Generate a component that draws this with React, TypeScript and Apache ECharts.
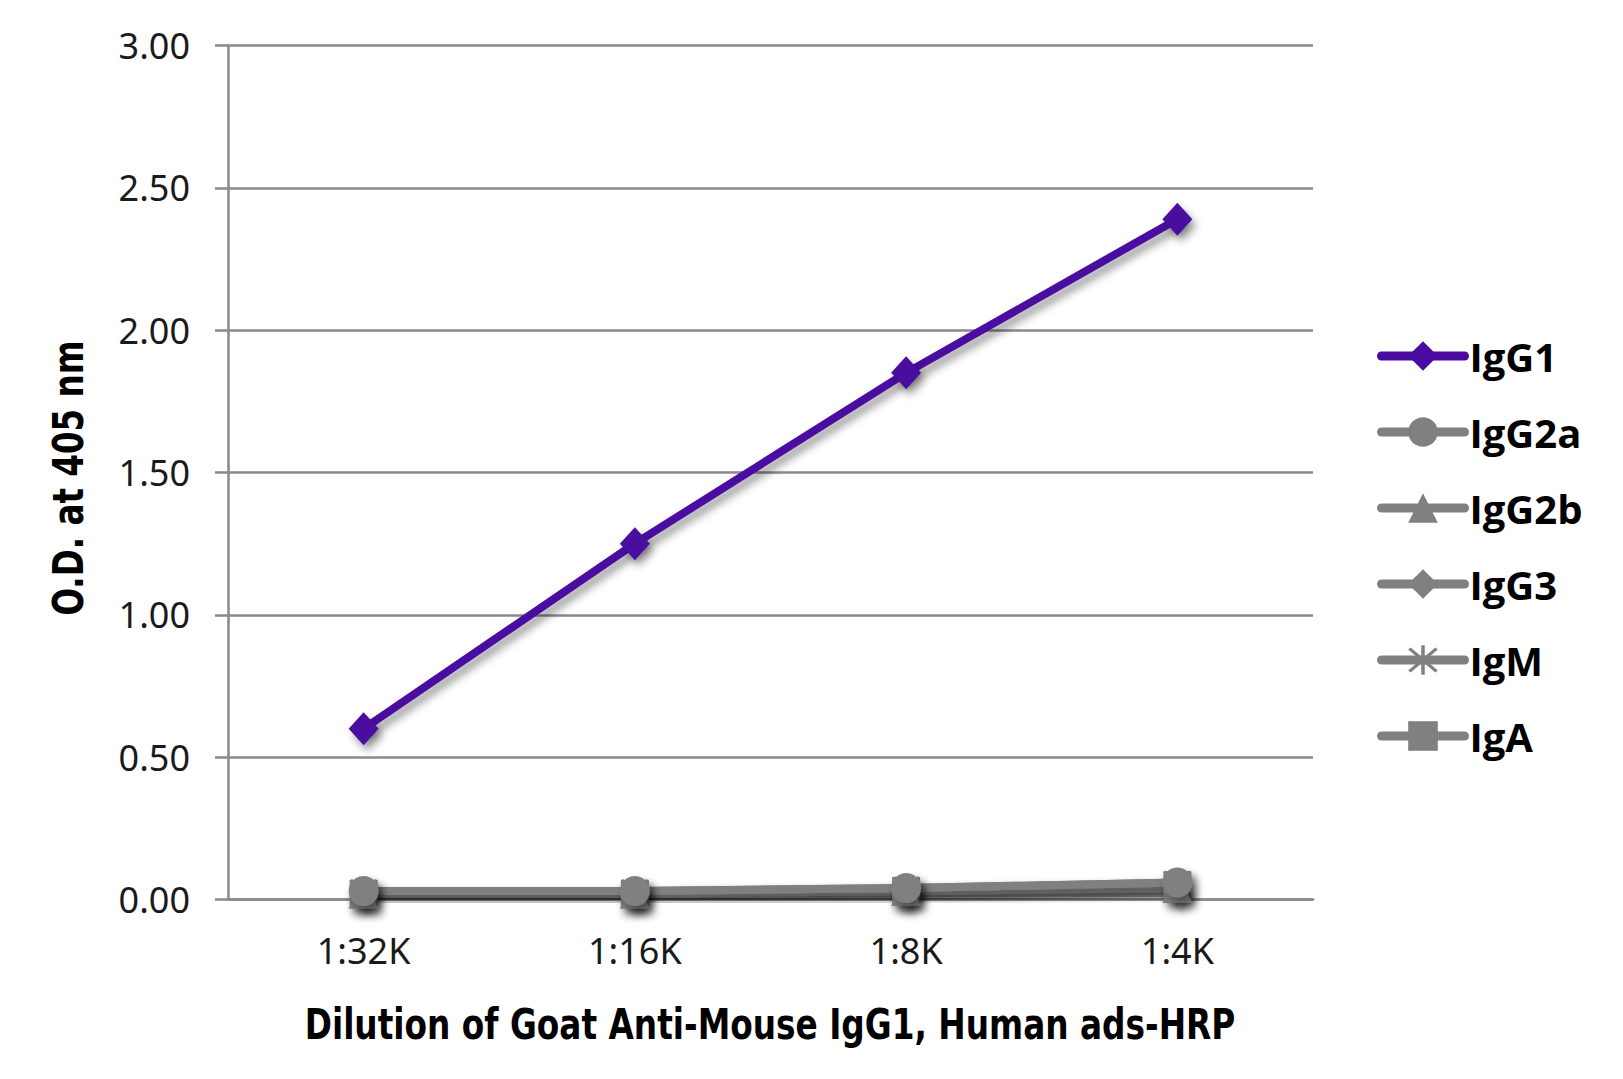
import React, { useEffect, useRef } from "react";
import * as echarts from "echarts";

const categories = ["1:32K", "1:16K", "1:8K", "1:4K"];
const yTicks = { min: 0, max: 3, interval: 0.5 };

const igg1 = [0.6, 1.25, 1.85, 2.39];
const igg2a = [0.03, 0.03, 0.04, 0.06];
const igg2b = [0.02, 0.02, 0.03, 0.04];
const igg3 = [0.02, 0.02, 0.02, 0.03];
const igm = [0.03, 0.03, 0.04, 0.06];
const iga = [0.02, 0.02, 0.03, 0.05];

const seriesNames = ["IgG1", "IgG2a", "IgG2b", "IgG3", "IgM", "IgA"];
const xTitle = "Dilution of Goat Anti-Mouse IgG1, Human ads-HRP";
const yTitle = "O.D. at 405 nm";

const PURPLE = "#4A0BA0";
const GRAY = "#808080";
const STAR =
  "path://M9,0H11V20H9Z M1.5,2.9L2.9,1.5L18.5,17.1L17.1,18.5Z M17.1,1.5L18.5,2.9L2.9,18.5L1.5,17.1Z";

const shadow = {
  shadowColor: "rgba(0,0,0,0.4)",
  shadowBlur: 8,
  shadowOffsetX: 4,
  shadowOffsetY: 6,
};

const TITLE_FONT = "bold 42px 'DejaVu Sans', 'Liberation Sans', sans-serif";

function mk(name: string, data: number[], color: string, symbol: string, size: any, z: number) {
  return {
    name,
    type: "line",
    data,
    symbol,
    symbolSize: size,
    z,
    lineStyle: { color, width: 8, cap: "round", join: "round", ...shadow },
    itemStyle: { color, ...shadow },
  };
}

export default function App() {
  const ref = useRef<HTMLDivElement>(null);
  useEffect(() => {
    const chart = echarts.init(ref.current!, null, { renderer: "svg" });
    chart.setOption({
      animation: false,
      backgroundColor: "#ffffff",
      grid: { left: 228, right: 310, top: 45.5, bottom: 179.5 },
      legend: {
        orient: "vertical",
        left: 1377,
        top: 336,
        padding: 0,
        itemWidth: 83,
        itemHeight: 37,
        itemGap: 36,
        data: seriesNames,
        lineStyle: { width: 9, cap: "round" },
        textStyle: {
          fontFamily: "'Open Sans', sans-serif",
          fontWeight: "bold",
          fontSize: 40,
          color: "#000",
        },
      },
      graphic: [
        {
          type: "text",
          x: 770,
          y: 1025,
          scaleX: 0.78,
          style: {
            text: xTitle,
            font: TITLE_FONT,
            fill: "#000",
            textAlign: "center",
            textVerticalAlign: "middle",
          },
        },
        {
          type: "text",
          x: 68,
          y: 478,
          rotation: Math.PI / 2,
          scaleX: 0.775,
          style: {
            text: yTitle,
            font: TITLE_FONT,
            fill: "#000",
            textAlign: "center",
            textVerticalAlign: "middle",
          },
        },
      ],
      xAxis: {
        type: "category",
        data: categories,
        boundaryGap: true,
        axisLine: { lineStyle: { color: "#8a8a8a", width: 2.5 } },
        axisTick: { length: 12, lineStyle: { color: "#8a8a8a", width: 2.5 } },
        axisLabel: {
          margin: 33,
          fontFamily: "'Noto Sans', sans-serif",
          fontSize: 36,
          color: "#1a1a1a",
        },
      },
      yAxis: {
        type: "value",
        min: yTicks.min,
        max: yTicks.max,
        interval: yTicks.interval,
        axisLine: { show: true, lineStyle: { color: "#8a8a8a", width: 2.5 } },
        axisTick: { show: true, length: 13, lineStyle: { color: "#8a8a8a", width: 2.5 } },
        splitLine: { lineStyle: { color: "#8a8a8a", width: 2.5 } },
        axisLabel: {
          margin: 38,
          fontFamily: "'Noto Sans', sans-serif",
          fontSize: 36,
          color: "#1a1a1a",
          formatter: (v: number) => v.toFixed(2),
        },
      },
      series: [
        mk("IgA", iga, GRAY, "rect", 28, 2),
        mk("IgM", igm, GRAY, STAR, 28, 2),
        mk("IgG3", igg3, GRAY, "diamond", [28, 32], 2),
        mk("IgG2b", igg2b, GRAY, "triangle", 30, 2),
        mk("IgG2a", igg2a, GRAY, "circle", 30, 2),
        mk("IgG1", igg1, PURPLE, "diamond", [30, 33], 3),
      ],
    });
    return () => chart.dispose();
  }, []);
  return (
    <div
      ref={ref}
      style={{ position: "absolute", left: 0, top: 0, width: 1623, height: 1079 }}
    />
  );
}
